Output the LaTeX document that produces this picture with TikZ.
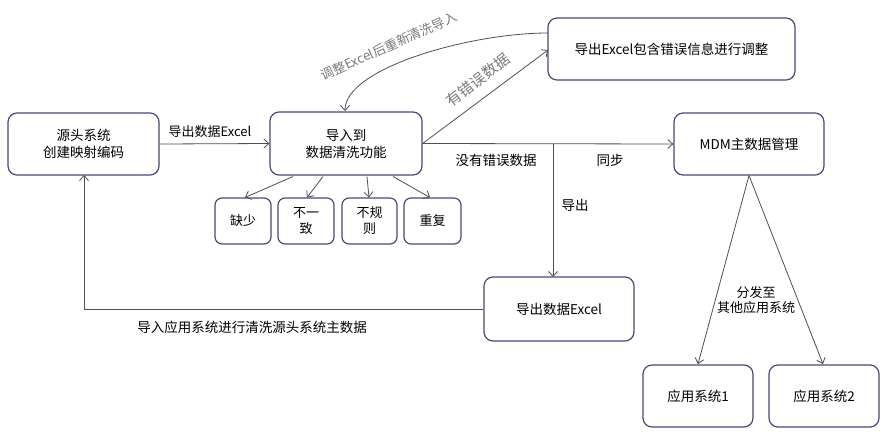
\documentclass[tikz,border=0pt]{standalone}
\usepackage{fontspec}
\setmainfont{Noto Sans CJK SC}
\usetikzlibrary{arrows.meta}
\definecolor{boxline}{HTML}{4A4A78}
\definecolor{lbl}{HTML}{7A7A7A}
\definecolor{lin}{HTML}{505050}
\tikzset{
  box/.style={draw=boxline, line width=1.2pt, rounded corners=9pt, align=center, font=\fontsize{13.5}{17}\selectfont, inner sep=0pt},
  sbox/.style={box, rounded corners=7pt, font=\fontsize{13}{16}\selectfont},
  conn/.style={draw=lin, line width=0.8pt, -{Straight Barb[length=5pt,width=9pt]}},
  txt/.style={font=\fontsize{13}{15}\selectfont, align=center, inner sep=0pt},
  gtxt/.style={font=\fontsize{13}{15}\selectfont, text=lbl, inner sep=0pt}
}
\begin{document}
\begin{tikzpicture}[x=1pt,y=-1pt]
\useasboundingbox (0,0) rectangle (884,440);
\node[box, minimum width=151pt, minimum height=62pt] (src) at (83.5,144) {源头系统\\创建映射编码};
\node[box, minimum width=152pt, minimum height=63pt] (clean) at (346,143.5) {导入到\\数据清洗功能};
\node[box, minimum width=247pt, minimum height=62pt] (err) at (671.5,49) {导出Excel包含错误信息进行调整};
\node[box, minimum width=150pt, minimum height=62pt] (mdm) at (749,144) {MDM主数据管理};
\node[sbox, minimum width=56pt, minimum height=46pt] (s1) at (243,221) {缺少};
\node[sbox, minimum width=56pt, minimum height=46pt] (s2) at (306,221) {不一\\致};
\node[sbox, minimum width=55pt, minimum height=46pt] (s3) at (369.5,221) {不规\\则};
\node[sbox, minimum width=57pt, minimum height=46pt] (s4) at (432.5,221) {重复};
\node[box, minimum width=150pt, minimum height=64pt] (exp) at (559,309) {导出数据Excel};
\node[box, minimum width=110pt, minimum height=62pt] (a1) at (698,396) {应用系统1};
\node[box, minimum width=110pt, minimum height=62pt] (a2) at (824,396) {应用系统2};

% source -> clean
\draw[conn] (src.east) -- (clean.west);
\node[txt] (l1) at (210,132) {导出数据Excel};
% clean -> mdm
\draw[conn] (clean.east) -- (mdm.west);
\node[txt, font=\fontsize{13.5}{15}\selectfont] (l2) at (496,160) {没有错误数据};
\node[txt, font=\fontsize{13.5}{15}\selectfont] (l3) at (610,160) {同步};
% clean -> err
\coordinate (errin) at (548,50);
\draw[conn] (clean.east) -- (errin);
\node[gtxt, rotate=38, font=\fontsize{15}{17}\selectfont] (l4) at (478,80) {有错误数据};
% err -> clean curve
\coordinate (errout) at (548,33);
\coordinate (cleantop) at (345,111);
\draw[conn] (errout) .. controls (470,33) and (345,68) .. (cleantop);
\node[gtxt, rotate=24] (l5) at (389,46) {调整Excel后重新清洗导入};
% vertical export
\coordinate (split) at (553,143.5);
\coordinate (exptop) at (553,277);
\draw[conn] (split) -- (exptop);
\node[txt, font=\fontsize{13.5}{15}\selectfont] (l6) at (575,205) {导出};
% back to source
\coordinate (corner) at (84,309);
\coordinate (srcbot) at (84,175);
\draw[conn] (exp.west) -- (corner) -- (srcbot);
\node[txt, font=\fontsize{13.5}{15}\selectfont] (l7) at (252,327) {导入应用系统进行清洗源头系统主数据};
% mdm to apps
\coordinate (apex) at (749,175.5);
\coordinate (a1top) at (698,364);
\coordinate (a2top) at (823,364);
\draw[conn] (apex) -- (a1top);
\draw[conn] (apex) -- (a2top);
\node[txt, font=\fontsize{13}{15}\selectfont] (l8) at (756,300) {分发至\\其他应用系统};
% small boxes
\coordinate (c1) at (293,176.5);
\coordinate (c2) at (323,176.5);
\coordinate (c3) at (367,176.5);
\coordinate (c4) at (393,176.5);
\coordinate (t1) at (245,197.5);
\coordinate (t2) at (307,197.5);
\coordinate (t3) at (369,197.5);
\coordinate (t4) at (430,197.5);
\draw[conn] (c1) -- (t1);
\draw[conn] (c2) -- (t2);
\draw[conn] (c3) -- (t3);
\draw[conn] (c4) -- (t4);
\end{tikzpicture}
\end{document}
